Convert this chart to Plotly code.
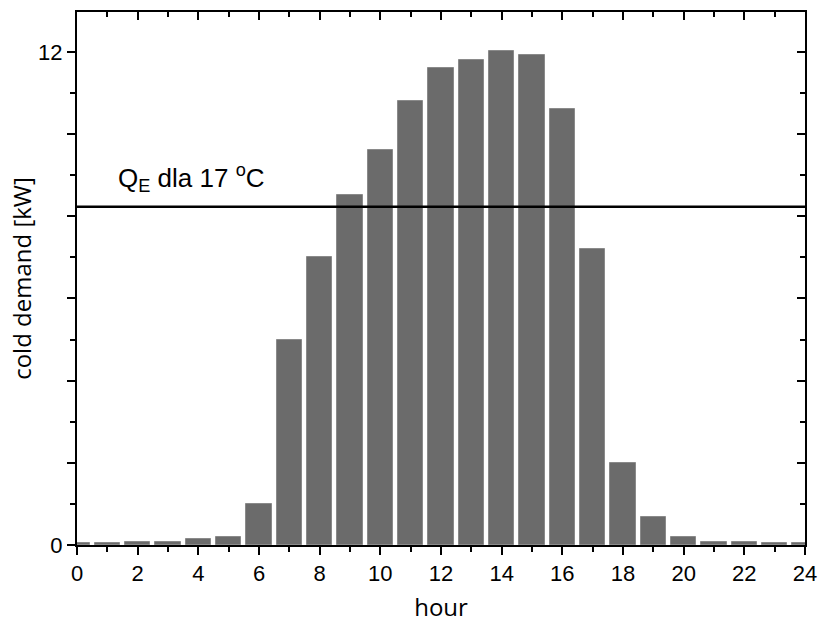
import plotly.graph_objects as go

hours = list(range(0, 25))
cold_demand = [0.04, 0.06, 0.07, 0.08, 0.15, 0.2, 0.99, 5.0, 7.0, 8.52, 9.62, 10.81,
               11.61, 11.8, 12.01, 11.92, 10.61, 7.2, 1.99, 0.69, 0.19, 0.08, 0.07, 0.06, 0.05]
qe_level = 8.23
qe_label = "Q<sub>E</sub> dla 17 <sup>o</sup>C"

y_major = [0, 2, 4, 6, 8, 10, 12]
y_labels = ["0", "", "", "", "", "", "12"]
y_minor = [1, 3, 5, 7, 9, 11]

font = "Liberation Sans, Arial, sans-serif"
title_font = "Open Sans, Noto Sans, sans-serif"
tick_font = dict(family=font, size=22, color="black")

fig = go.Figure()
fig.add_trace(go.Bar(x=hours, y=cold_demand, width=0.84,
                     marker=dict(color="#6b6b6b", line=dict(color="#8a8a8a", width=1)),
                     showlegend=False))
# dummy trace so the top/right axes get drawn
fig.add_trace(go.Scatter(x=[0], y=[0], xaxis="x2", yaxis="y2", mode="markers",
                         marker=dict(opacity=0), showlegend=False, hoverinfo="skip"))

fig.add_hline(y=qe_level, line=dict(color="black", width=2.5))
fig.add_annotation(x=1.3, y=8.93, text=qe_label, showarrow=False, xanchor="left",
                   font=dict(size=26, color="black", family=font))

axis_common = dict(showline=True, linecolor="black", linewidth=2, showgrid=False,
                   zeroline=False, tickcolor="black", tickwidth=2, automargin=False,
                   tickfont=tick_font)

fig.update_layout(
    width=819, height=628,
    margin=dict(l=77, r=14, t=12, b=83),
    plot_bgcolor="white", paper_bgcolor="white",
    font=dict(family=font, size=22, color="black"),
    bargap=0,
    xaxis=dict(range=[0, 24], dtick=2, ticks="outside", ticklen=8,
               minor=dict(dtick=1, ticks="outside", ticklen=5, tickcolor="black", tickwidth=2),
               title=dict(text="hour", font=dict(family=title_font, size=24), standoff=14),
               **axis_common),
    yaxis=dict(range=[0, 12.97], tickmode="array", tickvals=y_major, ticktext=y_labels,
               ticks="outside", ticklen=8,
               minor=dict(tickmode="array", tickvals=y_minor, ticks="outside",
                          ticklen=5, tickcolor="black", tickwidth=2),
               title=dict(text="cold demand [kW]", font=dict(family=title_font, size=24), standoff=0),
               **axis_common),
    xaxis2=dict(range=[0, 24], overlaying="x", side="top", matches="x", dtick=2,
                ticks="inside", ticklen=8, showticklabels=False,
                minor=dict(dtick=1, ticks="inside", ticklen=5, tickcolor="black", tickwidth=2),
                **axis_common),
    yaxis2=dict(range=[0, 12.97], overlaying="y", side="right", matches="y",
                tickmode="array", tickvals=y_major, ticks="inside", ticklen=8,
                showticklabels=False,
                minor=dict(tickmode="array", tickvals=y_minor, ticks="inside",
                           ticklen=5, tickcolor="black", tickwidth=2),
                **axis_common),
)

fig.write_html("out.html", config={"displayModeBar": False},
               post_script="document.body.style.margin='0';")
